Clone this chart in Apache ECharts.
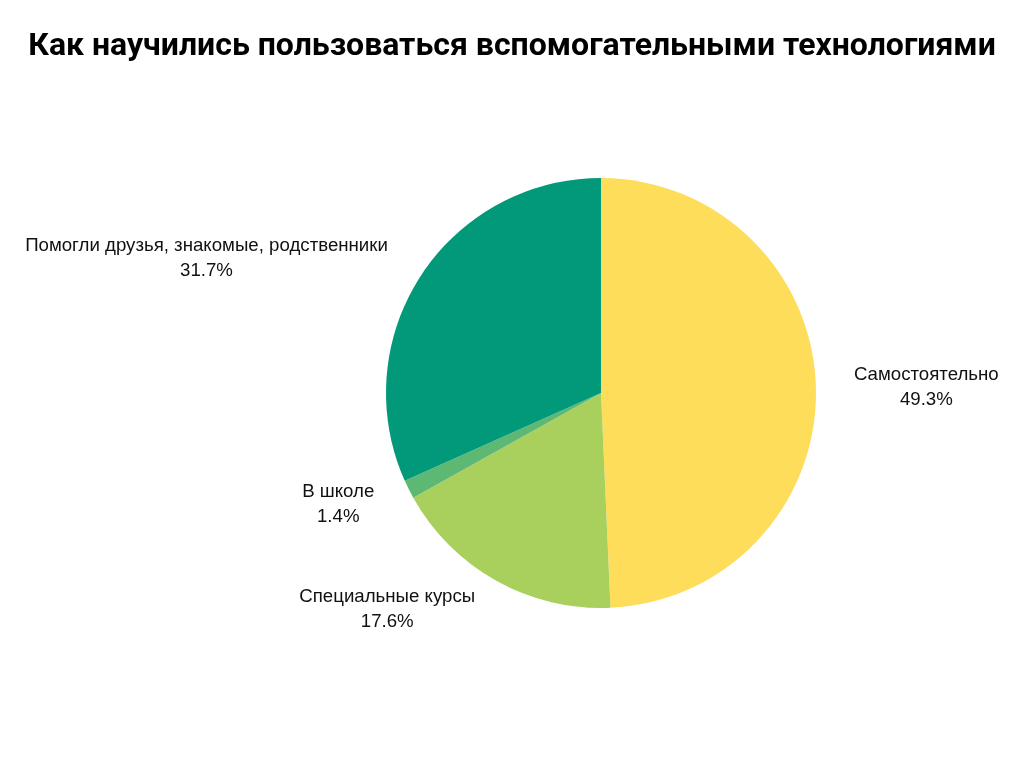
<!DOCTYPE html>
<html>
<head>
<meta charset="utf-8">
<script src="https://cdn.jsdelivr.net/npm/echarts@6/dist/echarts.min.js"></script>
<style>
  html, body { margin: 0; padding: 0; background: #fff; }
  #chart { width: 1024px; height: 768px; }
</style>
</head>
<body>
<div id="chart"></div>
<script>
  // данные
  var categories = ['Самостоятельно', 'Специальные курсы', 'В школе', 'Помогли друзья, знакомые, родственники'];
  var shares = [49.3, 17.6, 1.4, 31.7];
  var colors = ['#FDDD5A', '#A9CF5C', '#5DB873', '#02997A'];

  var chart = echarts.init(document.getElementById('chart'));

  var option = {
    animation: false,
    title: {
      text: 'Как научились пользоваться вспомогательными технологиями',
      left: 'center',
      top: 26,
      textStyle: {
        fontFamily: 'Roboto',
        fontWeight: 'bold',
        fontSize: 32,
        color: '#000'
      }
    },
    color: colors,
    series: [
      {
        type: 'pie',
        center: [601, 393],
        radius: [0, 215],
        startAngle: 90,
        clockwise: true,
        avoidLabelOverlap: false,
        label: {
          show: true,
          position: 'outside',
          formatter: '{b}\n{c}%',
          fontFamily: 'Liberation Sans',
          fontSize: 18.67,
          lineHeight: 25,
          color: '#111'
        },
        labelLine: { show: false, length: 33, length2: 0 },
        // центрируем строки подписи, не сдвигая её внешний край
        labelLayout: function (params) {
          var r = params.labelRect;
          return {
            x: r.x + r.width / 2,
            y: r.y + r.height / 2,
            align: 'center',
            verticalAlign: 'middle'
          };
        },
        data: categories.map(function (name, i) {
          return { name: name, value: shares[i] };
        })
      }
    ]
  };

  chart.setOption(option);
</script>
</body>
</html>
